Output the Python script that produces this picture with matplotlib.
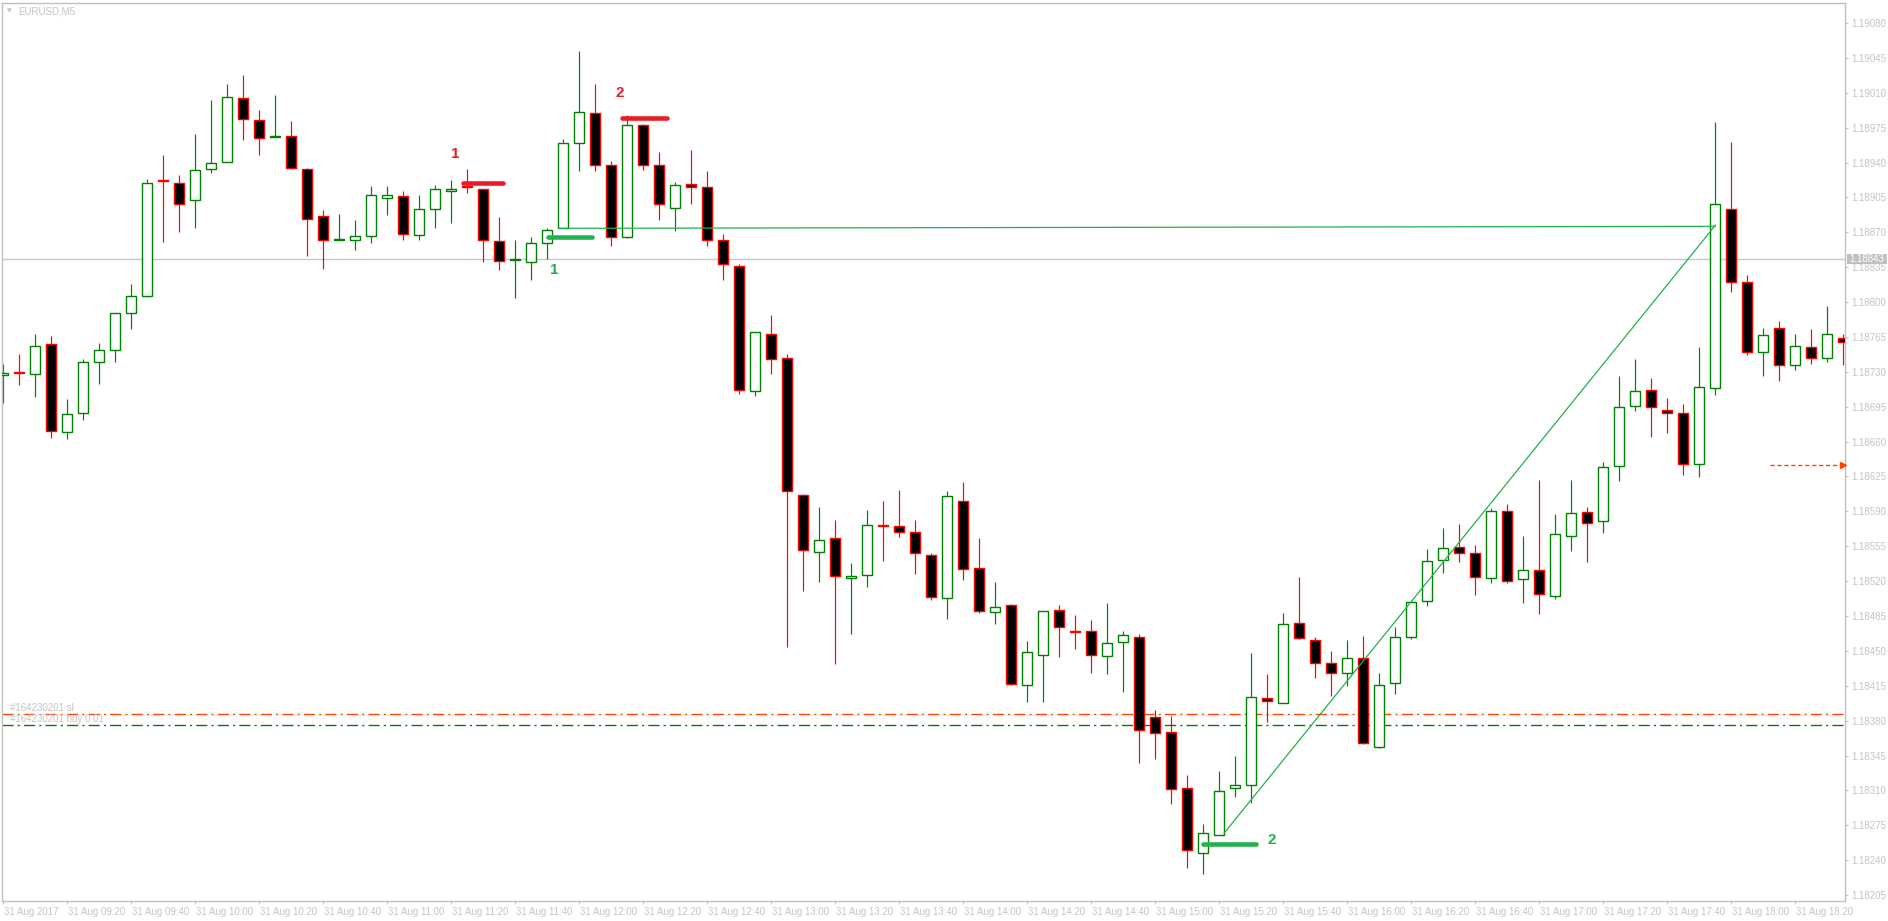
import matplotlib.pyplot as plt
import numpy as np
import pandas as pd
from matplotlib.patches import Rectangle
from matplotlib.transforms import ScaledTranslation, blended_transform_factory

plt.rcParams['font.family'] = ['Liberation Sans', 'DejaVu Sans']

# EURUSD M5 candles, 31 Aug 2017 from 09:00
opens = [1.18727, 1.18730, 1.18728, 1.18758, 1.18670, 1.18689, 1.18740, 1.18752, 1.18789, 1.18806,
         1.18922, 1.18919, 1.18902, 1.18934, 1.18941, 1.19005, 1.18983, 1.18966, 1.18967, 1.18934,
         1.18886, 1.18862, 1.18862, 1.18866, 1.18904, 1.18906, 1.18867, 1.18893, 1.18911, 1.18916,
         1.18913, 1.18861, 1.18842, 1.18840, 1.18859, 1.18874, 1.18960, 1.18990, 1.18938, 1.18865,
         1.18978, 1.18938, 1.18894, 1.18918, 1.18915, 1.18862, 1.18836, 1.18711, 1.18768, 1.18744,
         1.18606, 1.18549, 1.18563, 1.18523, 1.18526, 1.18576, 1.18575, 1.18569, 1.18546, 1.18503,
         1.18600, 1.18533, 1.18489, 1.18496, 1.18416, 1.18446, 1.18491, 1.18470, 1.18470, 1.18445,
         1.18459, 1.18464, 1.18384, 1.18369, 1.18312, 1.18247, 1.18265, 1.18312, 1.18315, 1.18403,
         1.18398, 1.18478, 1.18461, 1.18438, 1.18428, 1.18443, 1.18354, 1.18418, 1.18464, 1.18500,
         1.18541, 1.18554, 1.18548, 1.18523, 1.18590, 1.18522, 1.18531, 1.18505, 1.18565, 1.18589,
         1.18580, 1.18635, 1.18696, 1.18712, 1.18692, 1.18689, 1.18638, 1.18714, 1.18893, 1.18820,
         1.18750, 1.18774, 1.18737, 1.18755, 1.18744, 1.18764]
highs = [1.18738, 1.18748, 1.18768, 1.18766, 1.18703, 1.18743, 1.18759, 1.18789, 1.18818, 1.18923,
         1.18948, 1.18928, 1.18969, 1.19003, 1.19019, 1.19028, 1.18993, 1.19008, 1.18982, 1.18935,
         1.18892, 1.18888, 1.18882, 1.18916, 1.18916, 1.18911, 1.18907, 1.18917, 1.18922, 1.18934,
         1.18913, 1.18885, 1.18862, 1.18865, 1.18874, 1.18964, 1.19052, 1.19019, 1.18942, 1.18988,
         1.18979, 1.18951, 1.18920, 1.18953, 1.18932, 1.18868, 1.18838, 1.18770, 1.18787, 1.18748,
         1.18607, 1.18594, 1.18581, 1.18538, 1.18591, 1.18600, 1.18611, 1.18581, 1.18548, 1.18610,
         1.18619, 1.18563, 1.18519, 1.18497, 1.18460, 1.18490, 1.18496, 1.18486, 1.18481, 1.18498,
         1.18470, 1.18467, 1.18391, 1.18385, 1.18325, 1.18276, 1.18329, 1.18345, 1.18448, 1.18427,
         1.18488, 1.18524, 1.18464, 1.18450, 1.18461, 1.18465, 1.18428, 1.18474, 1.18500, 1.18552,
         1.18573, 1.18577, 1.18556, 1.18593, 1.18597, 1.18565, 1.18621, 1.18587, 1.18621, 1.18594,
         1.18640, 1.18726, 1.18743, 1.18724, 1.18704, 1.18698, 1.18755, 1.18981, 1.18961, 1.18827,
         1.18774, 1.18781, 1.18768, 1.18773, 1.18796, 1.18768]
lows = [1.18699, 1.18717, 1.18705, 1.18664, 1.18663, 1.18682, 1.18718, 1.18740, 1.18773, 1.18805,
        1.18860, 1.18870, 1.18874, 1.18930, 1.18941, 1.18963, 1.18948, 1.18966, 1.18934, 1.18846,
        1.18833, 1.18862, 1.18852, 1.18859, 1.18887, 1.18862, 1.18862, 1.18874, 1.18879, 1.18909,
        1.18840, 1.18832, 1.18804, 1.18822, 1.18843, 1.18874, 1.18932, 1.18932, 1.18856, 1.18864,
        1.18933, 1.18882, 1.18871, 1.18898, 1.18856, 1.18822, 1.18708, 1.18706, 1.18728, 1.18454,
        1.18510, 1.18519, 1.18437, 1.18467, 1.18514, 1.18540, 1.18564, 1.18527, 1.18501, 1.18482,
        1.18521, 1.18488, 1.18477, 1.18416, 1.18399, 1.18399, 1.18444, 1.18452, 1.18428, 1.18427,
        1.18409, 1.18337, 1.18341, 1.18296, 1.18232, 1.18226, 1.18265, 1.18303, 1.18297, 1.18379,
        1.18398, 1.18462, 1.18423, 1.18405, 1.18415, 1.18357, 1.18353, 1.18407, 1.18462, 1.18495,
        1.18528, 1.18539, 1.18506, 1.18518, 1.18518, 1.18498, 1.18487, 1.18502, 1.18550, 1.18539,
        1.18568, 1.18620, 1.18691, 1.18665, 1.18669, 1.18626, 1.18624, 1.18707, 1.18810, 1.18747,
        1.18726, 1.18721, 1.18732, 1.18738, 1.18740, 1.18737]
closes = [1.18729, 1.18729, 1.18756, 1.18671, 1.18688, 1.18740, 1.18752, 1.18789, 1.18806, 1.18919,
          1.18921, 1.18898, 1.18933, 1.18940, 1.19006, 1.18984, 1.18965, 1.18967, 1.18935, 1.18883,
          1.18862, 1.18863, 1.18866, 1.18907, 1.18907, 1.18868, 1.18893, 1.18913, 1.18913, 1.18915,
          1.18862, 1.18841, 1.18843, 1.18859, 1.18872, 1.18960, 1.18991, 1.18938, 1.18865, 1.18978,
          1.18938, 1.18898, 1.18917, 1.18915, 1.18862, 1.18838, 1.18712, 1.18770, 1.18743, 1.18610,
          1.18551, 1.18561, 1.18525, 1.18525, 1.18576, 1.18575, 1.18569, 1.18548, 1.18504, 1.18605,
          1.18532, 1.18490, 1.18494, 1.18417, 1.18449, 1.18490, 1.18474, 1.18469, 1.18446, 1.18458,
          1.18466, 1.18371, 1.18368, 1.18311, 1.18250, 1.18267, 1.18309, 1.18315, 1.18404, 1.18400,
          1.18477, 1.18463, 1.18438, 1.18428, 1.18443, 1.18358, 1.18416, 1.18464, 1.18499, 1.18540,
          1.18553, 1.18548, 1.18524, 1.18590, 1.18520, 1.18531, 1.18507, 1.18567, 1.18588, 1.18578,
          1.18634, 1.18695, 1.18711, 1.18695, 1.18689, 1.18638, 1.18715, 1.18898, 1.18820, 1.18750,
          1.18767, 1.18737, 1.18756, 1.18744, 1.18768, 1.18760]
times = pd.date_range("2017-08-31 09:00", periods=len(opens), freq="5min")

bid_price = 1.18843
sl_price = 1.18387
buy_price = 1.18376
order_no = "#164230201"

# closed trades: open bar, open price, close bar, close price
trade_open_bar = [34.7, 76.3]
trade_open_price = [1.18874, 1.18267]
trade_close_bar = [107.0, 107.0]
trade_close_price = [1.18876, 1.18877]

# numbered markers: start bar, end bar, price, label, label bar, label price
mark_start = [28.75, 38.65, 34.05, 74.96]
mark_end = [31.25, 41.5, 36.8, 78.3]
mark_price = [1.18919, 1.18985, 1.18865, 1.18256]
mark_text = ["1", "2", "1", "2"]
mark_color = ["#ed1c24", "#ed1c24", "#22b14c", "#22b14c"]
label_bar = [28.23, 38.54, 34.44, 79.3]
label_price = [1.18949, 1.19010, 1.18832, 1.18260]

arrow_bar = [110.4, 115.0]
arrow_price = 1.18637

y_ticks = np.round(np.linspace(1.18205, 1.19080, 26), 5)

light = "#c4c4c4"
bull_edge = "#008000"
bear_edge = "#ff0000"
fs = 7

fig = plt.figure(figsize=(18.88, 9.21), dpi=100)
ax = fig.add_axes([2.3 / 1888, 20.3 / 921, 1842.7 / 1888, 898 / 921])
ax.set_xlim(-0.0625, 115.106)
ax.set_ylim(1.181993, 1.191004)

o = np.array(opens)
h = np.array(highs)
l = np.array(lows)
c = np.array(closes)
x = np.arange(len(o))
up = c > o

ax.vlines(x[up], l[up], h[up], color=bull_edge, lw=0.85, zorder=2)
ax.vlines(x[~up], l[~up], h[~up], color=bear_edge, lw=0.85, zorder=2)
ax.bar(x[up], (c - o)[up], bottom=o[up], width=0.62, color="white",
       edgecolor=bull_edge, linewidth=1.0, zorder=3)
ax.bar(x[~up], (c - o)[~up], bottom=o[~up], width=0.62, color="black",
       edgecolor=bear_edge, linewidth=1.0, zorder=3)

# bid line and order levels
ax.axhline(bid_price, color="#c8c8c8", lw=1.0, zorder=1)
ax.axhline(sl_price, color="#ff4500", lw=1.0, dashes=(8, 3, 1.5, 3), zorder=1)
ax.axhline(buy_price, color="#008000", lw=1.0, dashes=(8, 3, 1.5, 3), zorder=1)
lt = blended_transform_factory(ax.transAxes, ax.transData)
up1 = ScaledTranslation(0, 1 / 100, fig.dpi_scale_trans)
ax.text(0.0042, sl_price, order_no + " sl", transform=lt + up1, va="bottom",
        ha="left", fontsize=fs, color=light, zorder=6)
ax.text(0.0042, buy_price, order_no + " buy 0.01", transform=lt + up1, va="bottom",
        ha="left", fontsize=fs, color=light, zorder=6)

# trade history lines
for i in range(len(trade_open_bar)):
    ax.plot([trade_open_bar[i], trade_close_bar[i]],
            [trade_open_price[i], trade_close_price[i]],
            color="#22b14c", lw=0.9, zorder=4)

# markers
for i in range(len(mark_text)):
    ax.plot([mark_start[i], mark_end[i]], [mark_price[i], mark_price[i]],
            color=mark_color[i], lw=3.3, solid_capstyle="round", zorder=5)
    ax.text(label_bar[i], label_price[i], mark_text[i], color=mark_color[i],
            fontsize=11, fontweight="bold", ha="center", va="center", zorder=6)

# orange dashed arrow at the right
ax.plot(arrow_bar, [arrow_price, arrow_price], color="#ff4500", lw=1.0,
        dashes=(3, 2), zorder=5)
ax.plot([arrow_bar[1]], [arrow_price], marker=">", color="#ff4500",
        markersize=4, zorder=5, clip_on=False)

# axes styling
for s in ax.spines.values():
    s.set_color("#c0c0c0")
    s.set_linewidth(1.0)

ax.yaxis.tick_right()
ax.set_yticks(y_ticks)
ax.set_yticklabels([f"{v:.5f}" for v in y_ticks])
ax.tick_params(axis="y", direction="out", length=1.8, width=0.8, color="#c0c0c0",
               pad=2.8, labelsize=fs, labelcolor=light)

tick_pos = x[::4]
tick_lab = []
for i in tick_pos:
    if i == 0:
        tick_lab.append(times[i].strftime("%d %b %Y"))
    else:
        tick_lab.append(times[i].strftime("%d %b %H:%M"))
ax.set_xticks(tick_pos)
ax.set_xticklabels(tick_lab, ha="left")
ax.tick_params(axis="x", direction="out", length=2.5, width=0.8, color="#c0c0c0",
               pad=2.0, labelsize=fs, labelcolor=light)
shift = ScaledTranslation(1 / 100, 0, fig.dpi_scale_trans)
for lab in ax.get_xticklabels():
    lab.set_transform(lab.get_transform() + shift)

# bid price box on the price axis
box_h = 10 / 99657
ax.add_patch(Rectangle((1.0009, bid_price - box_h / 2), 0.0219, box_h, transform=lt,
                       facecolor="#c0c0c0", edgecolor="none", clip_on=False, zorder=7))
ax.text(1.0009 + 0.0219 / 2, bid_price, f"{bid_price:.5f}", transform=lt, ha="center",
        va="center", fontsize=fs, color="white", clip_on=False, zorder=8)

# symbol caption
fig.text(9 / 1888, 1 - 10.5 / 921, "\u25bc", family="DejaVu Sans", fontsize=4.5,
         color=light, ha="center", va="center")
fig.text(18 / 1888, 1 - 11 / 921, "EURUSD,M5", fontsize=fs, color=light,
         ha="left", va="center")

fig.savefig("out.png", dpi=100)
